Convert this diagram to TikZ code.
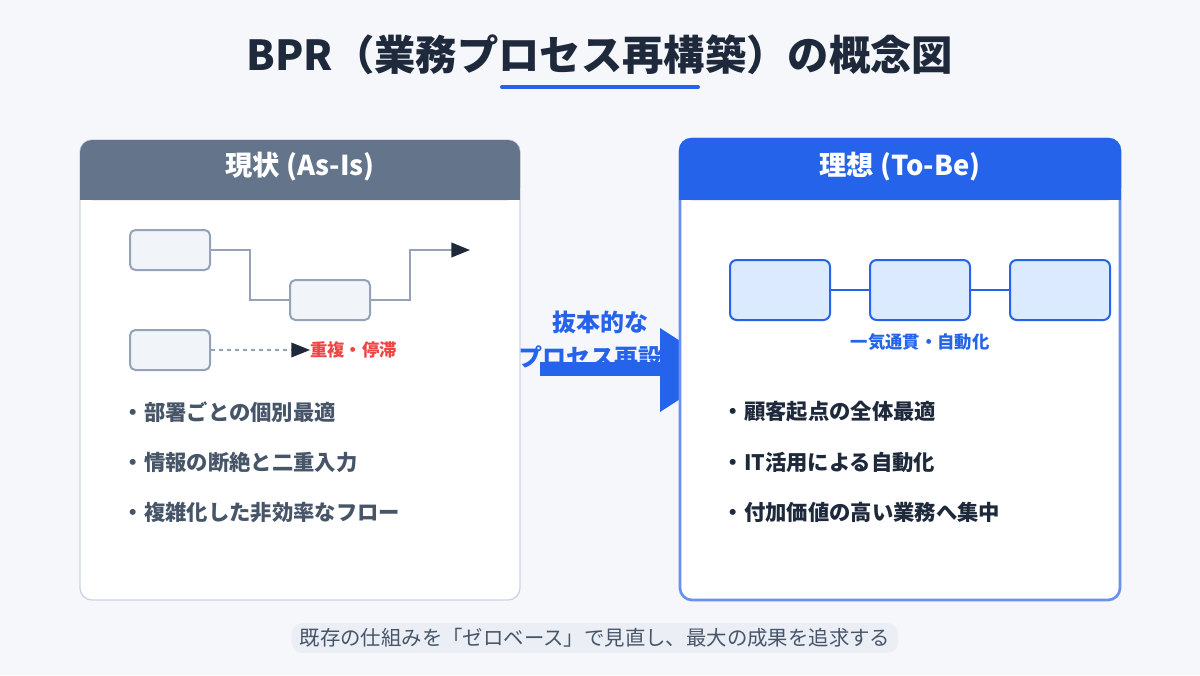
\documentclass[tikz,border=0pt]{standalone}
\usepackage{fontspec}
\setmainfont{Noto Sans CJK JP}
\usetikzlibrary{arrows.meta}
\definecolor{ink}{HTML}{1E293B}
\definecolor{slate}{HTML}{64748B}
\definecolor{slatetext}{HTML}{475569}
\definecolor{edge}{HTML}{94A3B8}
\definecolor{paleedge}{HTML}{CBD5E1}
\definecolor{pale}{HTML}{F1F5F9}
\definecolor{blue}{HTML}{2563EB}
\definecolor{paleblue}{HTML}{DBEAFE}
\definecolor{bg}{HTML}{F5F7FB}
\definecolor{warn}{HTML}{EF4444}
\definecolor{pill}{HTML}{EBEFF5}
\begin{document}
\begin{tikzpicture}[x=0.75pt,y=-0.75pt,
    oldbox/.style={draw=edge,fill=pale,line width=1.5pt,rounded corners=4pt},
    newbox/.style={draw=blue,fill=paleblue,line width=1.5pt,rounded corners=5pt},
    flow/.style={draw=edge,line width=1.5pt},
    tip/.style={-{Triangle[length=14pt,width=11pt,fill=ink,color=ink]}},
    point/.style={anchor=west,font=\bfseries\fontsize{16}{18}\selectfont}]
    \useasboundingbox (0,0) rectangle (1200,675);
    \fill[bg] (0,0) rectangle (1200,675);
    % title
    \node[text=ink,font=\bfseries\fontsize{31}{34}\selectfont] (title) at (600,55) {BPR（業務プロセス再構築）の概念図};
    \draw[blue,line width=3pt,line cap=round] (502,87) -- (698,87);
    % middle arrow
    \fill[blue] (540,362) rectangle (665,376);
    \fill[blue] (660,328) -- (725,370) -- (660,412) -- cycle;
    \node[text=blue,font=\bfseries\fontsize{18}{20}\selectfont] (why) at (600,322) {抜本的な};
    \node[text=blue,font=\bfseries\fontsize{18}{20}\selectfont] (how) at (590,357) {プロセス再設};
    % left panel
    \draw[paleedge,fill=white,line width=1pt,rounded corners=9pt] (80,140) rectangle (520,600);
    \fill[slate,rounded corners=9pt] (80,140) rectangle (520,200);
    \fill[slate] (80,180) rectangle (520,200);
    \node[text=white,font=\bfseries\fontsize{20.5}{22}\selectfont] (asis) at (300,167) {現状 (As-Is)};
    \node[oldbox,minimum width=60pt,minimum height=30pt] (a1) at (170,250) {};
    \node[oldbox,minimum width=60pt,minimum height=30pt] (a2) at (330,300) {};
    \node[oldbox,minimum width=60pt,minimum height=30pt] (a3) at (170,350) {};
    \coordinate (aend) at (470,250);
    \coordinate (dend) at (310,350);
    \draw[flow] (a1.east) -- (250,250) -- (250,300) -- (a2.west);
    \draw[flow,tip] (a2.east) -- (410,300) -- (410,250) -- (aend);
    \draw[flow,dashed,line width=1pt,tip] (a3.east) -- (dend);
    \node[anchor=west,text=warn,inner sep=0pt,font=\bfseries\fontsize{13}{15}\selectfont] (stall) at (dend) {重複・停滞};
    \foreach \t/\y in {部署ごとの個別最適/412,情報の断絶と二重入力/462,複雑化した非効率なフロー/512}
        \node[point,text=slatetext] at (118,\y) {・\t};
    % right panel
    \draw[blue!70,fill=white,line width=2pt,rounded corners=9pt] (680,139) rectangle (1120,600);
    \fill[blue,rounded corners=9pt] (679,138) rectangle (1121,200);
    \fill[blue] (679,180) rectangle (1121,200);
    \node[text=white,font=\bfseries\fontsize{20.5}{22}\selectfont] (tobe) at (900,167) {理想 (To-Be)};
    \node[newbox,minimum width=75pt,minimum height=45pt] (b1) at (780,290) {};
    \node[newbox,minimum width=75pt,minimum height=45pt] (b2) at (920,290) {};
    \node[newbox,minimum width=75pt,minimum height=45pt] (b3) at (1060,290) {};
    \draw[blue,line width=2pt] (b1) -- (b2) (b2) -- (b3);
    \node[text=blue,font=\bfseries\fontsize{13}{15}\selectfont] (auto) at (920,342) {一気通貫・自動化};
    \foreach \t/\y in {顧客起点の全体最適/412,IT活用による自動化/462,付加価値の高い業務へ集中/512}
        \node[point,text=ink] at (718,\y) {・\t};
    % footer
    \node[fill=pill,rounded corners=8pt,text=slatetext,inner xsep=6pt,inner ysep=4pt,font=\fontsize{15.3}{17}\selectfont] (note) at (595,638) {既存の仕組みを「ゼロベース」で見直し、最大の成果を追求する};
\end{tikzpicture}
\end{document}
